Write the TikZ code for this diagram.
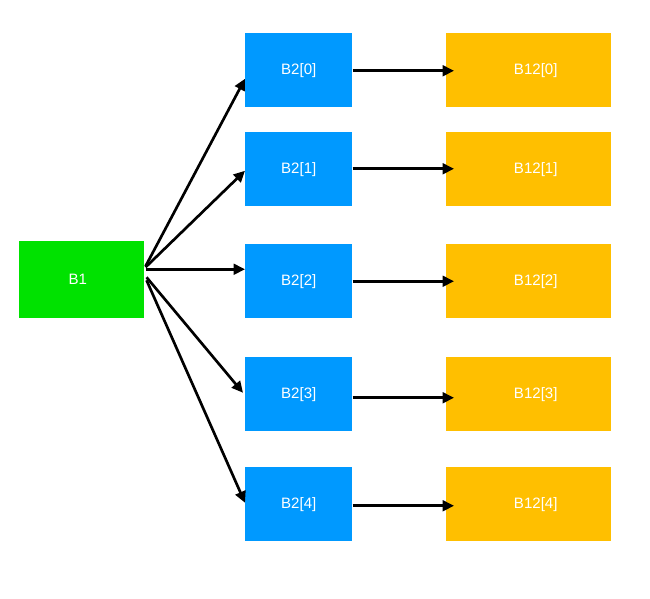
\documentclass[tikz,border=0pt]{standalone}
\usepackage{fontspec}
\setmainfont{Liberation Sans}
\usetikzlibrary{arrows.meta}
\definecolor{bgreen}{RGB}{0,226,0}
\definecolor{bblue}{RGB}{0,153,255}
\definecolor{borange}{RGB}{255,191,0}
\begin{document}
\begin{tikzpicture}[x=0.75pt,y=-0.75pt,
  box/.style={draw=none,text=white,font=\fontsize{11.3}{13}\selectfont,inner sep=0pt,anchor=north west},
  gbox/.style={box,fill=bgreen,minimum width=93.75pt,minimum height=57.75pt},
  bbox/.style={box,fill=bblue,minimum width=80.25pt,minimum height=55.5pt},
  obox/.style={box,fill=borange,minimum width=123.75pt,minimum height=55.5pt},
  arr/.style={line width=2pt,-{Triangle[length=8.5pt,width=8pt]}}]
\useasboundingbox (0,0) rectangle (650,599);
\node[gbox] (b1) at (19,241) {B1\hspace*{6pt}};
\node[bbox] (b20) at (245,33) {B2[0]};
\node[bbox] (b21) at (245,132) {B2[1]};
\node[bbox] (b22) at (245,244) {B2[2]};
\node[bbox] (b23) at (245,357) {B2[3]};
\node[bbox] (b24) at (245,467) {B2[4]};
\node[obox] (c0) at (446,33) {\hspace*{10.5pt}B12[0]};
\node[obox] (c1) at (446,132) {\hspace*{10.5pt}B12[1]};
\node[obox] (c2) at (446,244) {\hspace*{10.5pt}B12[2]};
\node[obox] (c3) at (446,357) {\hspace*{10.5pt}B12[3]};
\node[obox] (c4) at (446,467) {\hspace*{10.5pt}B12[4]};
% fan from B1
\draw[arr] ([shift={(1,-13.5)}]b1.east) -- ([shift={(0,8.5)}]b20.west);
\draw[arr] ([shift={(1,-12.5)}]b1.east) -- ([shift={(0,1.5)}]b21.west);
\draw[arr] ([shift={(1,-10.5)}]b1.east) -- ([shift={(0,-12)}]b22.west);
\draw[arr] ([shift={(2,-2.5)}]b1.east) -- ([shift={(-2,-1.5)}]b23.west);
\draw[arr] ([shift={(2,0.5)}]b1.east) -- ([shift={(0,-1.5)}]b24.west);
% B2 -> B12
\draw[arr] ([shift={(0,0.5)}]b20.east) -- ([shift={(8,0.5)}]c0.west);
\draw[arr] ([shift={(0,-0.5)}]b21.east) -- ([shift={(8,-0.5)}]c1.west);
\draw[arr] ([shift={(0,0)}]b22.east) -- ([shift={(8,0)}]c2.west);
\draw[arr] ([shift={(0,3.5)}]b23.east) -- ([shift={(8,3.5)}]c3.west);
\draw[arr] ([shift={(0,1.5)}]b24.east) -- ([shift={(8,1.5)}]c4.west);
\end{tikzpicture}
\end{document}
